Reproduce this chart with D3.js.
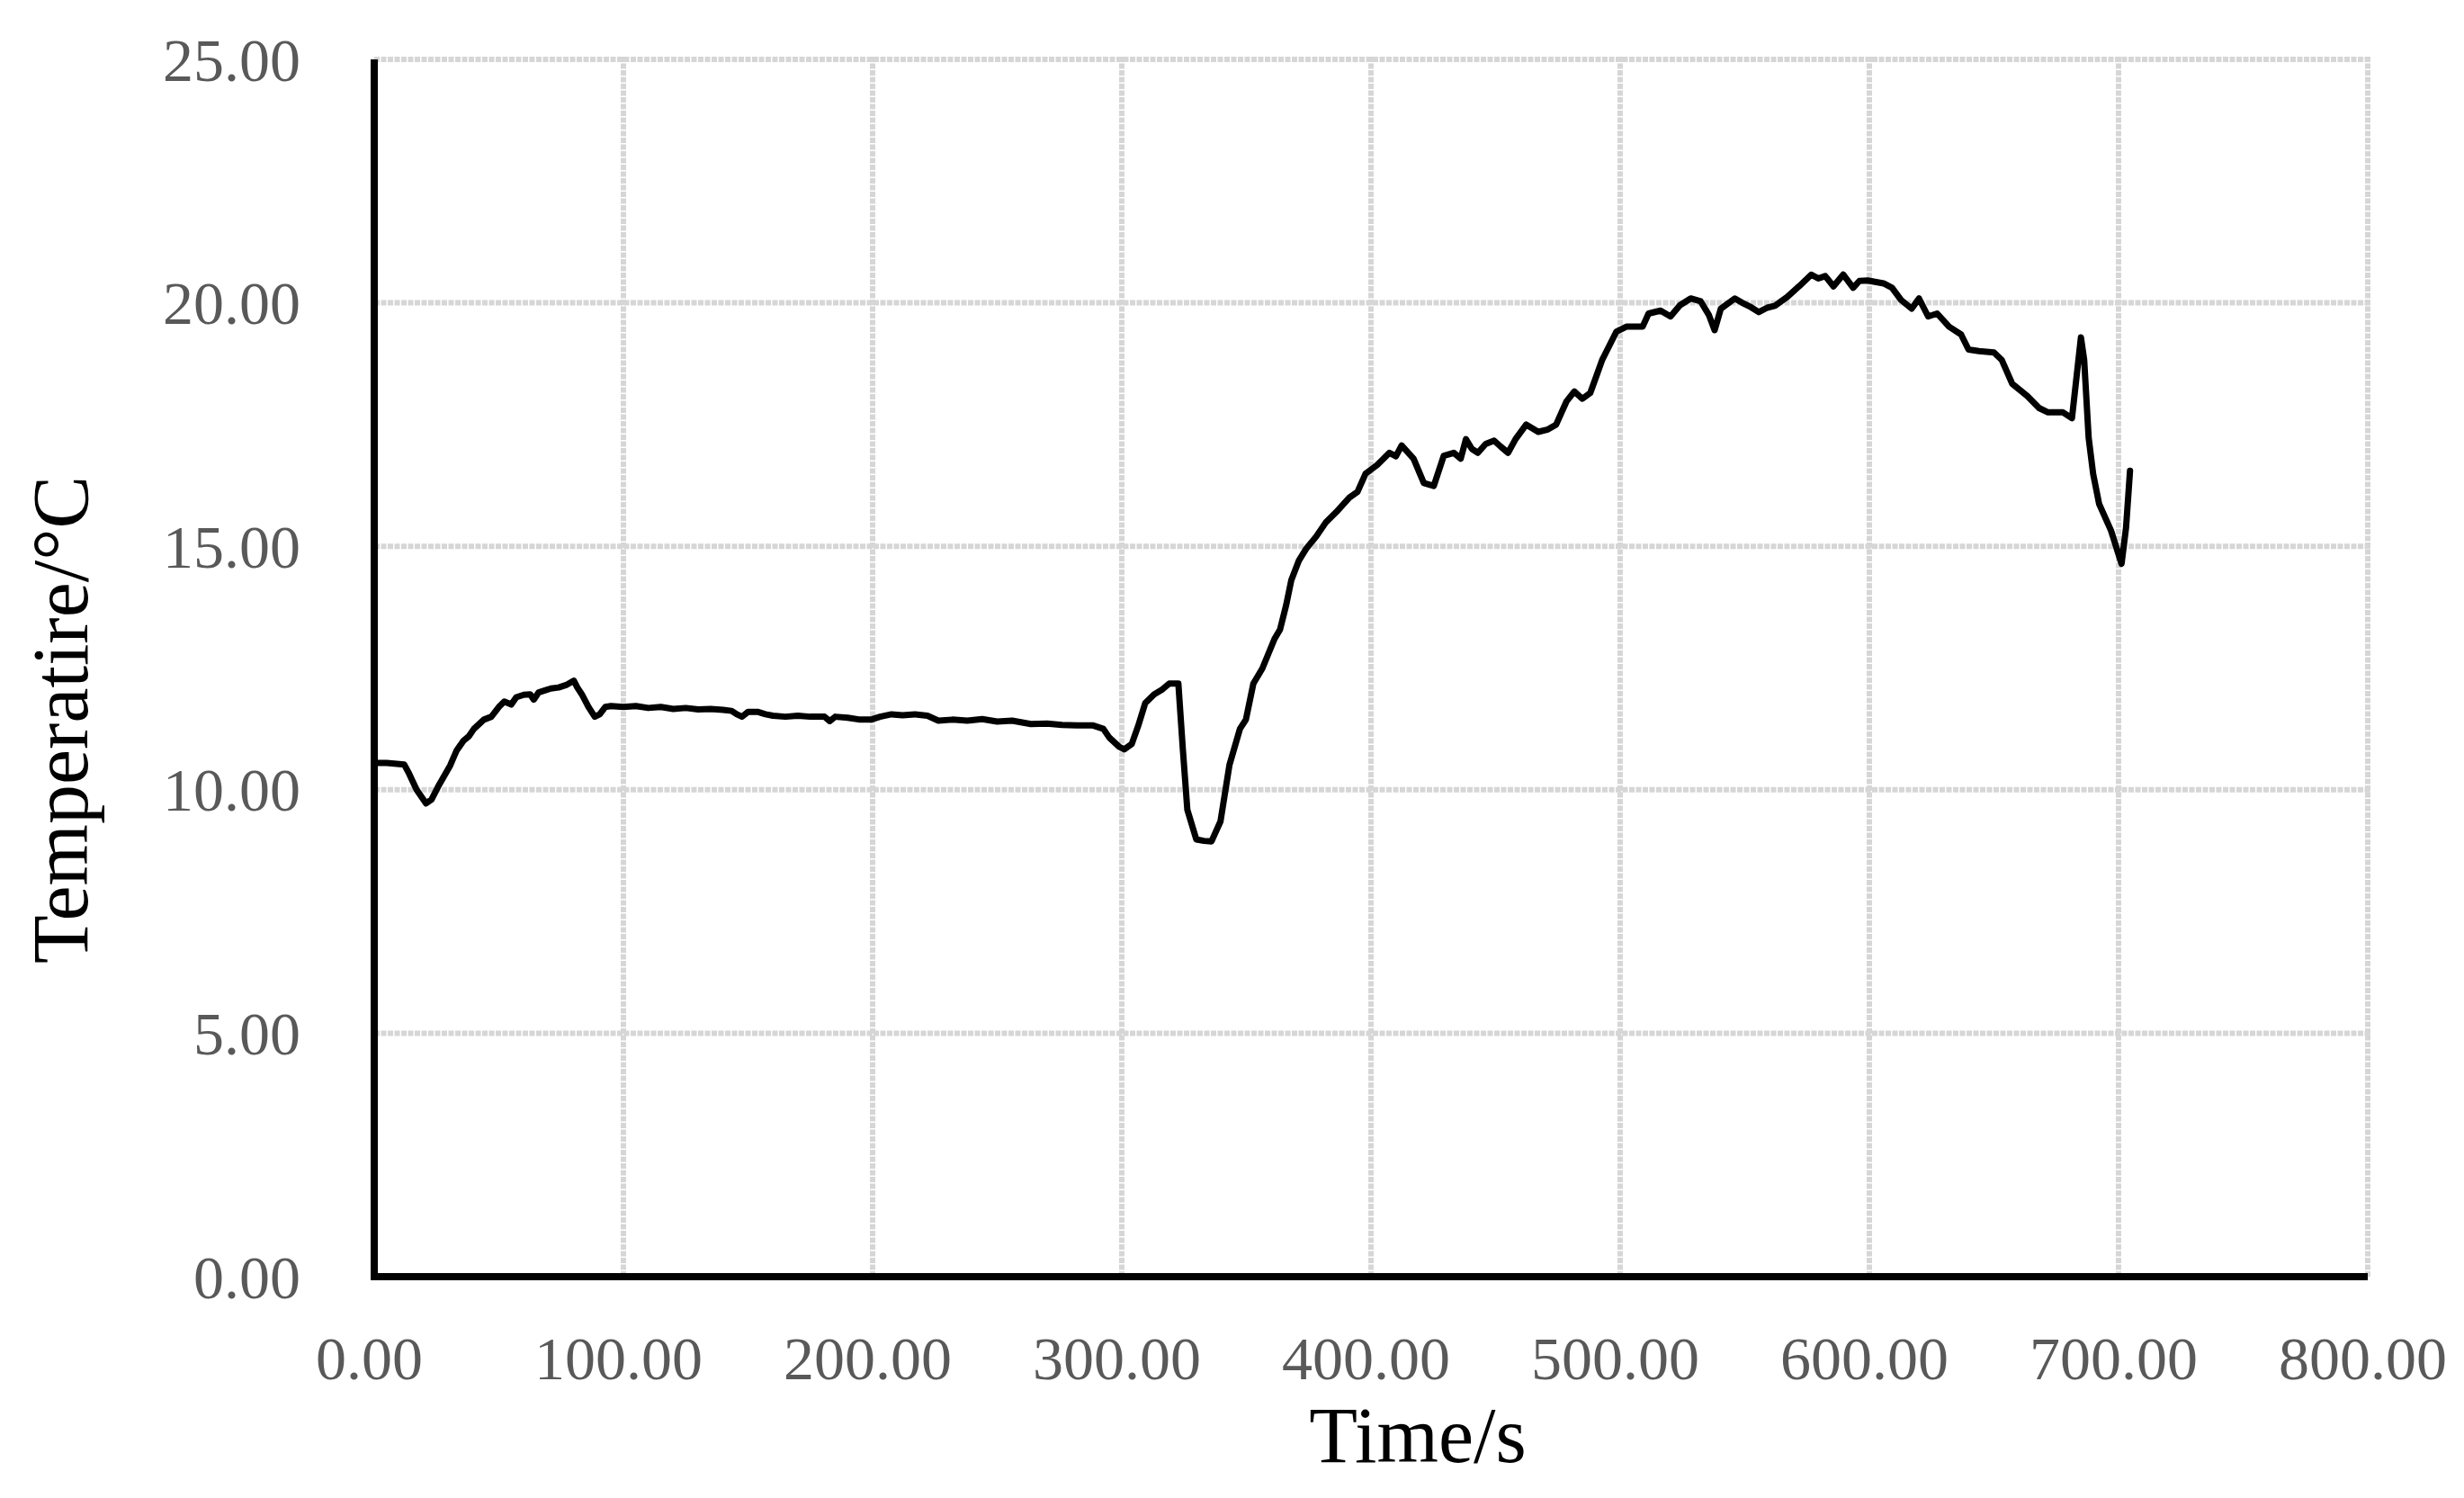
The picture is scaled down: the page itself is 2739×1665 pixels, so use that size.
<!DOCTYPE html>
<html>
<head>
<meta charset="utf-8">
<script src="https://cdn.jsdelivr.net/npm/d3@7"></script>
<style>
  html, body { margin: 0; padding: 0; background: #ffffff; }
  svg { display: block; }
</style>
</head>
<body>
<script>
// ---- data ----
const timeS = [
  0, 5, 12, 14, 17, 20.8, 23, 26, 30.5, 33, 35.7, 38, 40, 44, 47, 50, 52.2, 55, 57, 60,
  62.6, 64, 66, 70.9, 74, 77, 80.1, 81.5, 83.3, 86, 88.5, 90.5, 92.7, 95, 100, 105, 110, 115,
  120, 125, 130, 135, 140, 143.4, 145.5, 147.6, 150, 153.8, 157, 160, 165, 170, 175, 180.7,
  182.8, 185, 190, 195, 199.3, 203, 207.6, 212, 217, 222, 226.4, 232, 238, 244, 250, 256,
  263.5, 270, 276, 282, 288.5, 292.6, 295, 299, 301, 304, 306.5, 309.4, 313, 316, 319, 322.7,
  324.5, 326.3, 329.9, 333, 336, 339.6, 343.2, 347.4, 349.8, 352.8, 356.4, 361.3, 363.5, 366,
  368, 371, 374, 378, 382, 386, 391.3, 394.6, 397.8, 402.5, 407.4, 410, 412.3, 417.1, 421.2,
  425.2, 429.2, 433.2, 436, 438.1, 440.5, 442.9, 446, 449.4, 452, 455, 458, 462.3, 467.1, 471,
  474.3, 478.4, 481.6, 484.8, 488, 492.8, 498.5, 502.5, 509, 511.4, 516.2, 520.2, 524, 528.3,
  532.3, 535.6, 537.9, 540.4, 546, 549, 552.5, 555.6, 559, 562.1, 567, 571.8, 576.7, 579.5,
  582.3, 585.6, 589.5, 593.5, 596, 599.3, 605.7, 609.1, 612.7, 617, 619.9, 623.6, 627.2, 632,
  636.8, 639.8, 644, 650, 653.1, 657.3, 663.3, 668.1, 671.7, 677.7, 681.3, 684.9, 686.2, 688,
  689.8, 692.2, 697, 701.2, 703, 704.6
];
const temperature = [
  10.55, 10.55, 10.52, 10.33, 10.0, 9.72, 9.8, 10.1, 10.5, 10.8, 11.0, 11.1, 11.25, 11.44, 11.5, 11.7, 11.81, 11.75, 11.9, 11.95,
  11.96, 11.85, 12.0, 12.08, 12.1, 12.15, 12.24, 12.1, 11.96, 11.7, 11.5, 11.55, 11.7, 11.72, 11.7, 11.72, 11.68, 11.7,
  11.66, 11.68, 11.65, 11.66, 11.64, 11.62, 11.55, 11.5, 11.6, 11.6, 11.55, 11.52, 11.5, 11.52, 11.5, 11.5,
  11.41, 11.5, 11.48, 11.44, 11.44, 11.5, 11.55, 11.53, 11.55, 11.52, 11.42, 11.44, 11.42, 11.45, 11.4, 11.42,
  11.35, 11.36, 11.33, 11.32, 11.32, 11.25, 11.07, 10.88, 10.83, 10.94, 11.3, 11.78, 11.96, 12.05, 12.18, 12.18,
  10.83, 9.59, 8.98, 8.95, 8.94, 9.35, 10.51, 11.25, 11.44, 12.18, 12.49, 13.1, 13.29, 13.8,
  14.3, 14.7, 14.95, 15.2, 15.5, 15.7, 16.0, 16.12, 16.49, 16.67, 16.92, 16.85, 17.07, 16.8, 16.3,
  16.24, 16.86, 16.92, 16.8, 17.2, 17.0, 16.92, 17.1, 17.17, 17.05, 16.92, 17.2, 17.5, 17.35, 17.4,
  17.5, 17.97, 18.18, 18.03, 18.15, 18.83, 19.41, 19.51, 19.51, 19.78, 19.84, 19.72, 19.95, 20.09,
  20.03, 19.75, 19.44, 19.88, 20.09, 20.0, 19.91, 19.81, 19.9, 19.94, 20.12, 20.34, 20.58, 20.5,
  20.55, 20.34, 20.58, 20.31, 20.45, 20.46, 20.4, 20.31, 20.06, 19.88, 20.09, 19.72, 19.78, 19.51,
  19.35, 19.04, 19.01, 18.98, 18.83, 18.34, 18.09, 17.84, 17.75, 17.75, 17.63, 19.29, 18.83, 17.23,
  16.49, 15.87, 15.32, 14.64, 15.38, 16.55
];
const xTickValues = [0, 100, 200, 300, 400, 500, 600, 700, 800];
const yTickValues = [0, 5, 10, 15, 20, 25];
const xTitle = "Time/s";
const yTitle = "Temperatire/°C";

// ---- layout ----
const W = 2739, H = 1665;
const plotL = 416, plotR = 2632, plotT = 66, plotB = 1419;

const svg = d3.select("body").append("svg")
  .attr("width", W).attr("height", H)
  .attr("viewBox", `0 0 ${W} ${H}`);
svg.append("rect").attr("width", W).attr("height", H).attr("fill", "#ffffff");

const xScale = d3.scaleLinear().domain([0, 800]).range([plotL, plotR]);
const yScale = d3.scaleLinear().domain([0, 25]).range([plotB, plotT]);

const fontFam = "'Liberation Serif', 'Times New Roman', serif";

// gridlines
const grid = svg.append("g");
grid.selectAll("line.h").data(yTickValues.filter(v => v > 0)).join("line")
  .attr("class", "h")
  .attr("x1", plotL).attr("x2", plotR + 3)
  .attr("y1", d => yScale(d)).attr("y2", d => yScale(d))
  .attr("stroke", "#d6d6d6").attr("stroke-width", 6)
  .attr("stroke-dasharray", "6,1.5");
grid.selectAll("line.v").data(xTickValues.filter(v => v > 0)).join("line")
  .attr("class", "v")
  .attr("y1", plotT - 3).attr("y2", plotB)
  .attr("x1", d => xScale(d)).attr("x2", d => xScale(d))
  .attr("stroke", "#d6d6d6").attr("stroke-width", 6)
  .attr("stroke-dasharray", "6,1.5");

// axes via d3
const yAxis = d3.axisLeft(yScale).tickValues(yTickValues).tickFormat(d3.format(".2f")).tickSize(0).tickPadding(82);
const xAxis = d3.axisBottom(xScale).tickValues(xTickValues).tickFormat(d3.format(".2f")).tickSize(0).tickPadding(66);

const gy = svg.append("g").attr("transform", `translate(${plotL},0)`).call(yAxis);
const gx = svg.append("g").attr("transform", `translate(0,${plotB})`).call(xAxis);
[gy, gx].forEach(g => {
  g.select(".domain").remove();
  g.selectAll("text")
    .attr("font-family", fontFam)
    .attr("font-size", 68)
    .attr("fill", "#595959");
});
gy.selectAll("text").attr("dy", "0.34em");
gx.selectAll("text").attr("dy", "0.71em").attr("dx", -6);

// data line
const line = d3.line().x((d, i) => xScale(timeS[i])).y((d, i) => yScale(temperature[i]));
svg.append("path")
  .datum(temperature)
  .attr("d", line)
  .attr("fill", "none")
  .attr("stroke", "#000000")
  .attr("stroke-width", 7)
  .attr("stroke-linejoin", "round")
  .attr("stroke-linecap", "round");

// axis lines (black)
svg.append("line").attr("x1", plotL).attr("x2", plotL).attr("y1", plotT).attr("y2", plotB + 4)
  .attr("stroke", "#000").attr("stroke-width", 8);
svg.append("line").attr("x1", plotL - 4).attr("x2", plotR).attr("y1", plotB).attr("y2", plotB)
  .attr("stroke", "#000").attr("stroke-width", 8);

// titles
svg.append("text")
  .attr("x", 1576).attr("y", 1625)
  .attr("text-anchor", "middle")
  .attr("font-family", fontFam).attr("font-size", 88).attr("fill", "#000")
  .text(xTitle);
svg.append("text")
  .attr("transform", `translate(97,800) rotate(-90)`)
  .attr("text-anchor", "middle")
  .attr("font-family", fontFam).attr("font-size", 88).attr("fill", "#000")
  .text(yTitle);
</script>
</body>
</html>
